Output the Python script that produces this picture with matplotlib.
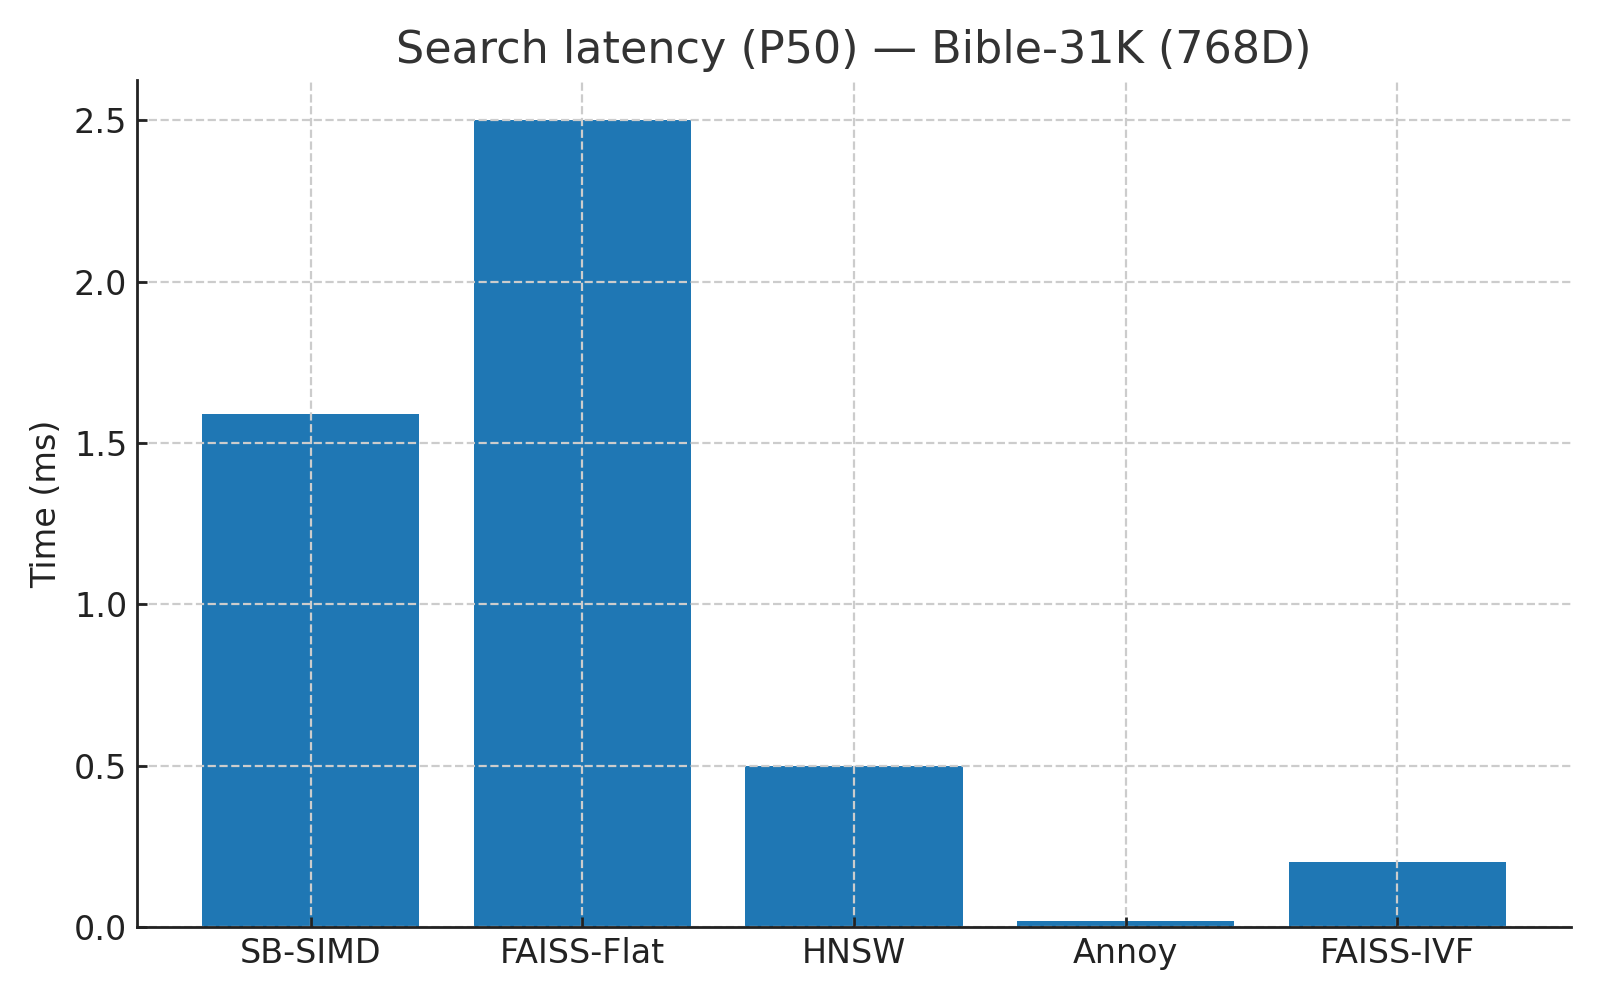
import matplotlib
matplotlib.use("Agg")
import matplotlib.pyplot as plt

methods = ["SB-SIMD", "FAISS-Flat", "HNSW", "Annoy", "FAISS-IVF"]
latency_ms = [1.59, 2.50, 0.50, 0.02, 0.20]

plt.rcParams['font.family'] = ['DejaVu Sans']
fig, ax = plt.subplots(figsize=(8, 5), dpi=200)
fig.subplots_adjust(left=0.0856, right=0.982, bottom=0.073, top=0.92)

ax.bar(methods, latency_ms, color="#1f77b4", width=0.8, zorder=1)
ax.set_title("Search latency (P50) — Bible-31K (768D)", fontsize=16, color="#333333")
ax.set_ylabel("Time (ms)", fontsize=12, color="#222222")
ax.tick_params(axis="both", direction="in", labelsize=12, colors="#222222", length=3.5, width=1.0)
ax.grid(True, linestyle="--", color="#cccccc", linewidth=0.8, zorder=2)
ax.set_axisbelow(False)
for s in ["top", "right"]:
    ax.spines[s].set_visible(False)
for s in ["left", "bottom"]:
    ax.spines[s].set_color("#222222")
    ax.spines[s].set_linewidth(1.0)
    ax.spines[s].set_zorder(3)
fig.savefig("out.png", dpi=200)
